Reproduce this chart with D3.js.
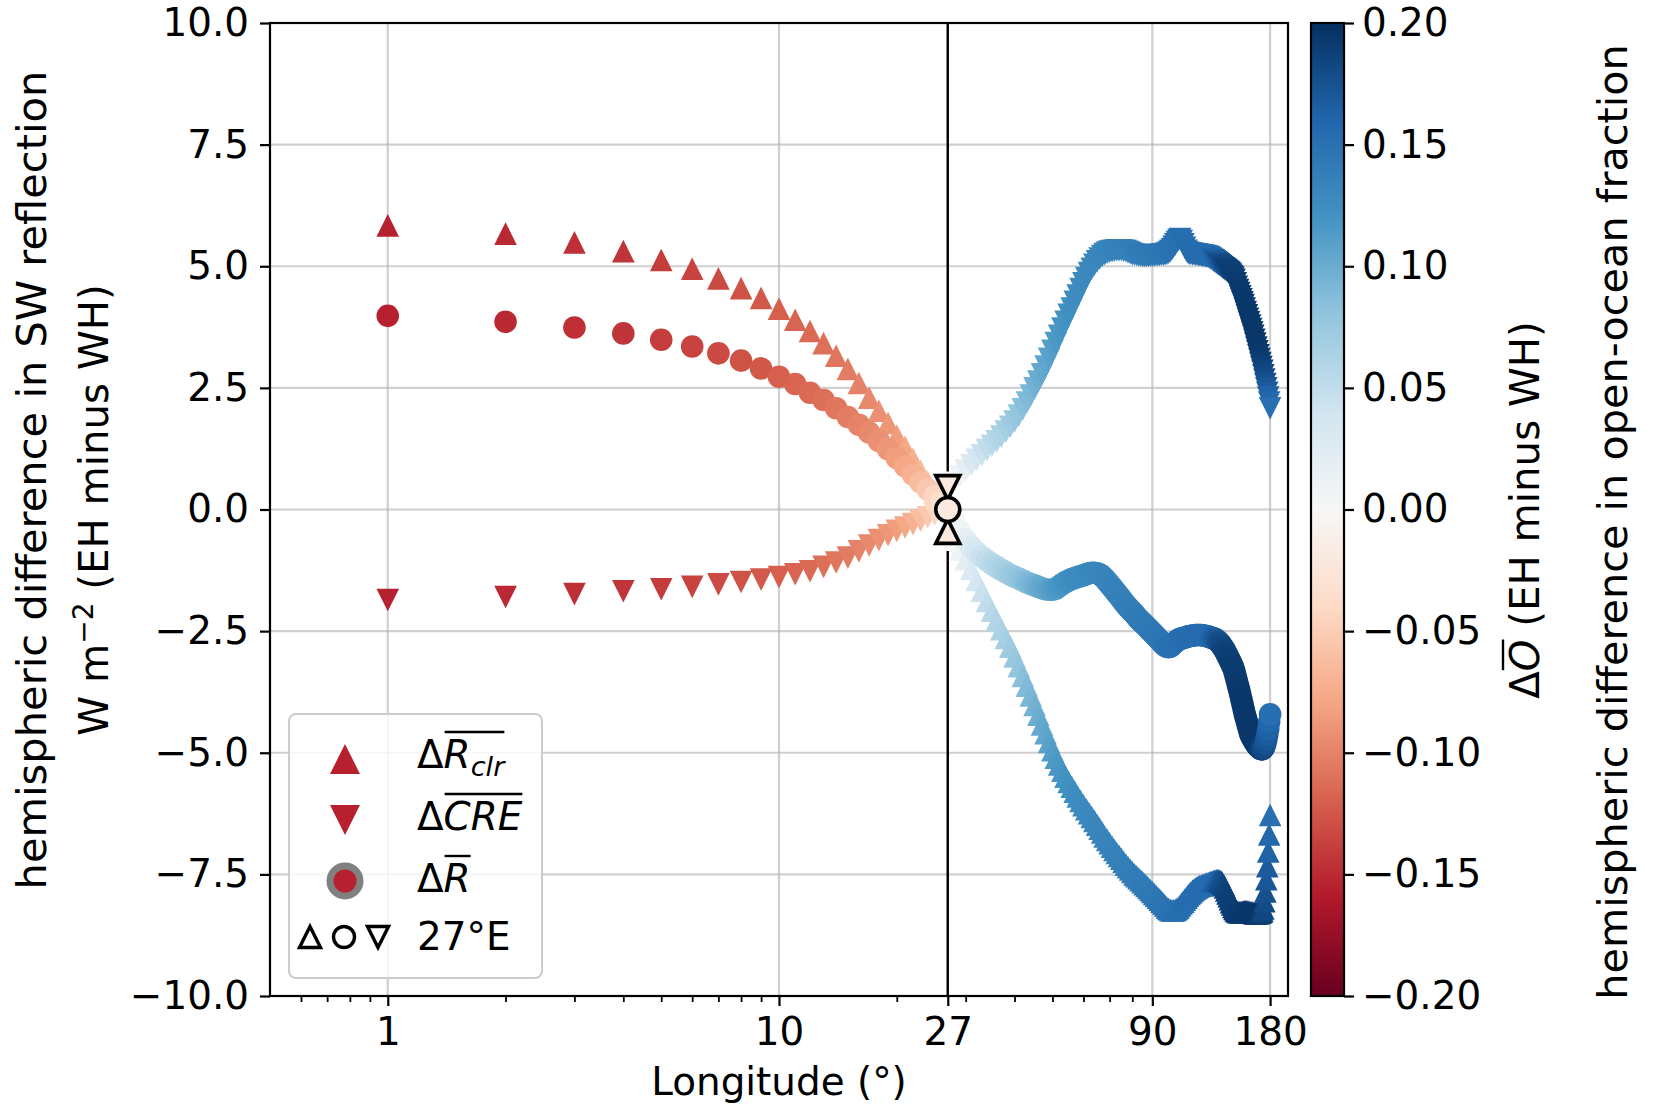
<!DOCTYPE html>
<html>
<head>
<meta charset="utf-8">
<script src="https://cdn.jsdelivr.net/npm/d3@7"></script>
<style>
  body { margin: 0; background: #fff; }
  text { font-family: "DejaVu Sans"; }
</style>
</head>
<body>
<svg id="chart" width="1655" height="1106"></svg>
<script>
// longitude of the hemisphere divide (degrees)
const lon = [
  1,2,3,4,5,6,7,8,9,10, 11,12,13,14,15,16,17,18,19,20,
  21,22,23,24,25,26,27,28,29,30, 31,32,33,34,35,36,37,38,39,40,
  41,42,43,44,45,46,47,48,49,50, 51,52,53,54,55,56,57,58,59,60,
  61,62,63,64,65,66,67,68,69,70, 71,72,73,74,75,76,77,78,79,80,
  81,82,83,84,85,86,87,88,89,90, 91,92,93,94,95,96,97,98,99,100,
  101,102,103,104,105,106,107,108,109,110, 111,112,113,114,115,116,117,118,119,120,
  121,122,123,124,125,126,127,128,129,130, 131,132,133,134,135,136,137,138,139,140,
  141,142,143,144,145,146,147,148,149,150, 151,152,153,154,155,156,157,158,159,160,
  161,162,163,164,165,166,167,168,169,170, 171,172,173,174,175,176,177,178,179,180
];

// clear-sky reflection difference (W m-2)
const rClr = [
  5.84,5.67,5.49,5.31,5.13,4.95,4.75,4.55,4.35,4.13,
  3.90,3.67,3.42,3.16,2.89,2.60,2.30,2.03,1.78,1.52,
  1.29,1.04,0.80,0.58,0.37,0.18,-0.45,-0.62,-0.82,-1.02,
  -1.22,-1.45,-1.67,-1.88,-2.08,-2.28,-2.46,-2.64,-2.82,-3.02,
  -3.22,-3.42,-3.62,-3.82,-4.02,-4.22,-4.42,-4.60,-4.78,-4.95,
  -5.10,-5.24,-5.37,-5.49,-5.60,-5.70,-5.80,-5.90,-5.99,-6.08,
  -6.16,-6.24,-6.32,-6.40,-6.48,-6.56,-6.64,-6.72,-6.79,-6.86,
  -6.93,-7.00,-7.06,-7.12,-7.18,-7.24,-7.30,-7.35,-7.40,-7.45,
  -7.50,-7.54,-7.58,-7.62,-7.66,-7.70,-7.74,-7.78,-7.82,-7.86,
  -7.90,-7.94,-7.98,-8.02,-8.06,-8.10,-8.14,-8.18,-8.21,-8.23,
  -8.24,-8.24,-8.23,-8.21,-8.18,-8.14,-8.10,-8.06,-8.02,-7.98,
  -7.94,-7.90,-7.87,-7.84,-7.81,-7.79,-7.77,-7.75,-7.74,-7.73,
  -7.72,-7.71,-7.70,-7.69,-7.68,-7.67,-7.66,-7.65,-7.64,-7.63,
  -7.62,-7.62,-7.62,-7.63,-7.65,-7.68,-7.72,-7.77,-7.83,-7.89,
  -7.95,-8.01,-8.07,-8.12,-8.17,-8.21,-8.24,-8.26,-8.27,-8.28,
  -8.28,-8.28,-8.27,-8.27,-8.26,-8.26,-8.26,-8.27,-8.27,-8.28,
  -8.28,-8.29,-8.29,-8.30,-8.30,-8.30,-8.30,-8.30,-8.29,-8.28,
  -8.27,-8.25,-8.20,-8.05,-7.85,-7.60,-7.33,-7.03,-6.68,-6.28
];

// cloud radiative effect difference (W m-2)
const cre = [
  -1.86,-1.80,-1.74,-1.68,-1.64,-1.59,-1.54,-1.49,-1.44,-1.39,
  -1.33,-1.27,-1.18,-1.09,-0.99,-0.86,-0.74,-0.63,-0.53,-0.44,
  -0.37,-0.30,-0.23,-0.16,-0.10,-0.04,0.45,0.55,0.68,0.80,
  0.91,1.02,1.12,1.22,1.31,1.40,1.50,1.60,1.70,1.81,
  1.93,2.06,2.20,2.34,2.49,2.63,2.78,2.94,3.10,3.26,
  3.42,3.57,3.72,3.86,4.00,4.13,4.27,4.40,4.53,4.65,
  4.76,4.86,4.95,5.03,5.10,5.16,5.21,5.25,5.28,5.30,
  5.31,5.32,5.33,5.33,5.33,5.32,5.31,5.29,5.27,5.25,
  5.24,5.23,5.22,5.22,5.21,5.21,5.21,5.21,5.22,5.22,
  5.22,5.23,5.23,5.23,5.24,5.24,5.25,5.26,5.28,5.31,
  5.35,5.40,5.45,5.50,5.54,5.56,5.52,5.45,5.38,5.32,
  5.28,5.26,5.26,5.25,5.25,5.24,5.24,5.23,5.23,5.22,
  5.22,5.21,5.21,5.20,5.19,5.18,5.16,5.14,5.12,5.10,
  5.08,5.06,5.04,5.02,5.00,4.98,4.96,4.94,4.92,4.90,
  4.88,4.86,4.83,4.80,4.77,4.72,4.65,4.58,4.51,4.45,
  4.38,4.32,4.26,4.20,4.13,4.06,3.99,3.92,3.85,3.78,
  3.71,3.64,3.57,3.49,3.41,3.33,3.25,3.17,3.09,3.01,
  2.93,2.85,2.76,2.67,2.58,2.49,2.40,2.30,2.20,2.08
];

// all-sky reflection difference (W m-2)
const rAll = [
  3.98,3.86,3.74,3.62,3.49,3.35,3.21,3.06,2.90,2.73,
  2.58,2.40,2.25,2.08,1.90,1.74,1.58,1.41,1.24,1.06,
  0.89,0.72,0.56,0.41,0.27,0.14,0.00,-0.22,-0.45,-0.62,
  -0.76,-0.88,-0.97,-1.05,-1.12,-1.18,-1.24,-1.29,-1.34,-1.38,
  -1.42,-1.46,-1.50,-1.53,-1.56,-1.59,-1.62,-1.64,-1.65,-1.65,
  -1.63,-1.58,-1.53,-1.49,-1.46,-1.43,-1.41,-1.39,-1.37,-1.35,
  -1.33,-1.31,-1.30,-1.30,-1.31,-1.33,-1.37,-1.42,-1.48,-1.54,
  -1.60,-1.66,-1.72,-1.78,-1.84,-1.90,-1.96,-2.01,-2.06,-2.10,
  -2.15,-2.20,-2.25,-2.29,-2.33,-2.37,-2.41,-2.45,-2.49,-2.53,
  -2.57,-2.61,-2.65,-2.69,-2.73,-2.77,-2.80,-2.82,-2.83,-2.82,
  -2.79,-2.76,-2.73,-2.70,-2.68,-2.66,-2.65,-2.64,-2.63,-2.62,
  -2.61,-2.60,-2.60,-2.59,-2.59,-2.58,-2.58,-2.58,-2.58,-2.58,
  -2.59,-2.59,-2.60,-2.60,-2.61,-2.62,-2.63,-2.64,-2.65,-2.66,
  -2.68,-2.70,-2.72,-2.75,-2.78,-2.82,-2.86,-2.90,-2.95,-3.00,
  -3.05,-3.10,-3.15,-3.20,-3.26,-3.34,-3.43,-3.52,-3.61,-3.70,
  -3.80,-3.90,-4.00,-4.10,-4.20,-4.28,-4.36,-4.44,-4.52,-4.60,
  -4.65,-4.69,-4.73,-4.77,-4.80,-4.83,-4.86,-4.88,-4.90,-4.92,
  -4.93,-4.93,-4.91,-4.87,-4.81,-4.73,-4.63,-4.51,-4.37,-4.21
];

// open-ocean fraction difference (colour)
const dOpen = [
  -0.155,-0.151,-0.147,-0.144,-0.140,-0.136,-0.132,-0.128,-0.124,-0.120,
  -0.117,-0.114,-0.111,-0.107,-0.104,-0.100,-0.096,-0.092,-0.088,-0.084,
  -0.078,-0.071,-0.063,-0.054,-0.044,-0.033,-0.020,0.000,0.010,0.020,
  0.029,0.037,0.044,0.050,0.055,0.060,0.064,0.068,0.072,0.076,
  0.080,0.084,0.088,0.092,0.096,0.100,0.103,0.106,0.109,0.112,
  0.115,0.117,0.119,0.121,0.123,0.124,0.125,0.126,0.127,0.128,
  0.129,0.130,0.131,0.131,0.132,0.132,0.133,0.133,0.134,0.134,
  0.135,0.135,0.136,0.136,0.137,0.137,0.138,0.138,0.139,0.139,
  0.140,0.140,0.141,0.141,0.142,0.142,0.143,0.143,0.144,0.144,
  0.145,0.145,0.146,0.146,0.147,0.147,0.148,0.148,0.149,0.149,
  0.150,0.150,0.151,0.151,0.152,0.152,0.153,0.153,0.153,0.154,
  0.154,0.154,0.154,0.154,0.154,0.154,0.154,0.155,0.155,0.155,
  0.155,0.155,0.155,0.155,0.155,0.156,0.158,0.160,0.163,0.166,
  0.169,0.172,0.175,0.178,0.180,0.182,0.184,0.186,0.187,0.188,
  0.189,0.189,0.190,0.190,0.191,0.191,0.192,0.192,0.193,0.193,
  0.193,0.194,0.194,0.194,0.194,0.195,0.195,0.195,0.195,0.195,
  0.195,0.195,0.195,0.195,0.195,0.194,0.194,0.193,0.193,0.191,
  0.189,0.186,0.183,0.180,0.176,0.172,0.168,0.163,0.158,0.152
];

const divideLon = 27;
const xTicks = [1, 10, 27, 90, 180];
const xMinorTicks = [0.6, 0.7, 0.8, 0.9, 2, 3, 4, 5, 6, 7, 8, 9, 20, 30, 40, 50, 60, 70, 80];
const yTicks = [-10, -7.5, -5, -2.5, 0, 2.5, 5, 7.5, 10];
const cTicks = [-0.2, -0.15, -0.1, -0.05, 0, 0.05, 0.1, 0.15, 0.2];
const rdbu = ["#67001f","#b2182b","#d6604d","#f4a582","#fddbc7","#f7f7f7",
              "#d1e5f0","#92c5de","#4393c3","#2166ac","#053061"];

const fs = 38.9;   // base font size
const svg = d3.select("#chart");

const plot = {left: 270, right: 1288, top: 23, bottom: 996};

const xScale = d3.scaleLog().domain([0.5, 200]).range([plot.left, plot.right]);
const yScale = d3.scaleLinear().domain([-10, 10]).range([plot.bottom, plot.top]);

// matplotlib RdBu on [-0.2, 0.2]
const cDomain = rdbu.map((d, i) => -0.2 + i * 0.4 / (rdbu.length - 1));
const color = d3.scaleLinear().domain(cDomain).range(rdbu).clamp(true);
const cScale = d3.scaleLinear().domain([-0.2, 0.2]).range([plot.bottom, plot.top]);

const points = lon.map((d, i) => ({lon: d, rClr: rClr[i], cre: cre[i], r: rAll[i], dO: dOpen[i]}));

const tri = (s, up) => up ? `M0,${-s}L${-s},${s}L${s},${s}Z` : `M0,${s}L${-s},${-s}L${s},${-s}Z`;
const ms = 11.3;

// grid
svg.append("g").selectAll("line")
  .data(yTicks).join("line")
  .attr("x1", plot.left).attr("x2", plot.right)
  .attr("y1", d => yScale(d)).attr("y2", d => yScale(d))
  .attr("stroke", "#b0b0b0").attr("stroke-opacity", 0.6).attr("stroke-width", 2.2);
svg.append("g").selectAll("line")
  .data(xTicks).join("line")
  .attr("x1", d => xScale(d)).attr("x2", d => xScale(d))
  .attr("y1", plot.top).attr("y2", plot.bottom)
  .attr("stroke", "#b0b0b0").attr("stroke-opacity", 0.6).attr("stroke-width", 2.2);

// 27E divide
svg.append("line")
  .attr("x1", xScale(divideLon)).attr("x2", xScale(divideLon))
  .attr("y1", plot.top).attr("y2", plot.bottom)
  .attr("stroke", "#000").attr("stroke-width", 2.4);

// markers: clear-sky, CRE, all-sky
const marks = svg.append("g");
marks.selectAll(".up").data(points).join("path")
  .attr("class", "up")
  .attr("d", tri(ms, true))
  .attr("transform", d => `translate(${xScale(d.lon)},${yScale(d.rClr)})`)
  .attr("fill", d => color(d.dO));
marks.selectAll(".down").data(points).join("path")
  .attr("class", "down")
  .attr("d", tri(ms, false))
  .attr("transform", d => `translate(${xScale(d.lon)},${yScale(d.cre)})`)
  .attr("fill", d => color(d.dO));
marks.selectAll("circle").data(points).join("circle")
  .attr("cx", d => xScale(d.lon)).attr("cy", d => yScale(d.r))
  .attr("r", ms)
  .attr("fill", d => color(d.dO));

// open black markers at the 27E divide
const div = points.filter(d => d.lon === divideLon);
const dm = 12;
marks.selectAll(".divUp").data(div).join("path")
  .attr("d", tri(dm, true))
  .attr("transform", d => `translate(${xScale(d.lon)},${yScale(d.rClr)})`)
  .attr("fill", d => color(d.dO)).attr("stroke", "#000").attr("stroke-width", 3.6);
marks.selectAll(".divDown").data(div).join("path")
  .attr("d", tri(dm, false))
  .attr("transform", d => `translate(${xScale(d.lon)},${yScale(d.cre)})`)
  .attr("fill", d => color(d.dO)).attr("stroke", "#000").attr("stroke-width", 3.6);
marks.selectAll(".divR").data(div).join("circle")
  .attr("cx", d => xScale(d.lon)).attr("cy", d => yScale(d.r))
  .attr("r", dm)
  .attr("fill", d => color(d.dO)).attr("stroke", "#000").attr("stroke-width", 3.6);

// axes
const styleAxis = g => {
  g.select(".domain").remove();
  g.selectAll("line").attr("stroke", "#000").attr("stroke-width", 2.2);
  g.selectAll("text").attr("font-family", "DejaVu Sans").attr("font-size", fs).attr("fill", "#000");
};

svg.append("g")
  .attr("transform", `translate(0,${plot.bottom})`)
  .call(d3.axisBottom(xScale).tickValues(xTicks).tickFormat(d3.format("d")).tickSize(10).tickPadding(11))
  .call(styleAxis);
svg.append("g")
  .attr("transform", `translate(0,${plot.bottom})`)
  .call(d3.axisBottom(xScale).tickValues(xMinorTicks).tickFormat("").tickSize(6))
  .call(g => { g.select(".domain").remove(); g.selectAll("line").attr("stroke", "#000").attr("stroke-width", 1.8); });

svg.append("g")
  .attr("transform", `translate(${plot.left},0)`)
  .call(d3.axisLeft(yScale).tickValues(yTicks).tickFormat(d3.format(".1f")).tickSize(10).tickPadding(11))
  .call(styleAxis);

// frame
svg.append("rect")
  .attr("x", plot.left).attr("y", plot.top)
  .attr("width", plot.right - plot.left).attr("height", plot.bottom - plot.top)
  .attr("fill", "none").attr("stroke", "#000").attr("stroke-width", 2.2);

// axis labels
svg.append("text")
  .attr("x", (plot.left + plot.right) / 2).attr("y", 1095)
  .attr("text-anchor", "middle").attr("font-size", fs)
  .text("Longitude (°)");

svg.append("text")
  .attr("transform", "translate(46,480) rotate(-90)")
  .attr("text-anchor", "middle").attr("font-size", 41.6)
  .text("hemispheric difference in SW reflection");

const yl2 = svg.append("text")
  .attr("transform", "translate(108,510) rotate(-90)")
  .attr("text-anchor", "middle").attr("font-size", 40.3);
yl2.append("tspan").text("W m");
yl2.append("tspan").attr("font-size", 28).attr("dy", -15).text("−2");
yl2.append("tspan").attr("dy", 15).text(" (EH minus WH)");

// colour bar
const cb = {x: 1311, w: 33};
const grad = svg.append("defs").append("linearGradient")
  .attr("id", "rdbu").attr("x1", 0).attr("x2", 0).attr("y1", 1).attr("y2", 0);
grad.selectAll("stop").data(rdbu).join("stop")
  .attr("offset", (d, i) => i / (rdbu.length - 1))
  .attr("stop-color", d => d);
svg.append("rect")
  .attr("x", cb.x).attr("y", plot.top).attr("width", cb.w).attr("height", plot.bottom - plot.top)
  .attr("fill", "url(#rdbu)").attr("stroke", "#000").attr("stroke-width", 2.2);
svg.append("g")
  .attr("transform", `translate(${cb.x + cb.w},0)`)
  .call(d3.axisRight(cScale).tickValues(cTicks).tickFormat(d3.format(".2f")).tickSize(10).tickPadding(8))
  .call(styleAxis);

// colour bar label, two lines
const cl1g = svg.append("g").attr("transform", "translate(1539,510) rotate(-90)");
const cl1 = cl1g.append("text").attr("text-anchor", "middle").attr("font-size", 40.3);
cl1.append("tspan").text("Δ");
cl1.append("tspan").attr("font-style", "italic").text("O");
cl1.append("tspan").text(" (EH minus WH)");

svg.append("text")
  .attr("transform", "translate(1627,522) rotate(-90)")
  .attr("text-anchor", "middle").attr("font-size", 41.4)
  .text("hemispheric difference in open-ocean fraction");

// legend
const lg = svg.append("g");
lg.append("rect")
  .attr("x", 289).attr("y", 714).attr("width", 253).attr("height", 264).attr("rx", 7)
  .attr("fill", "#fff").attr("fill-opacity", 0.8).attr("stroke", "#cccccc").attr("stroke-width", 2);

const legendColor = color(dOpen[0]);
lg.append("path").attr("d", tri(15, true)).attr("transform", "translate(345,759)").attr("fill", legendColor);
lg.append("path").attr("d", tri(15, false)).attr("transform", "translate(345,820)").attr("fill", legendColor);
lg.append("circle").attr("cx", 345).attr("cy", 881).attr("r", 15)
  .attr("fill", legendColor).attr("stroke", "#808080").attr("stroke-width", 7);
lg.append("path").attr("d", tri(10.5, true)).attr("transform", "translate(310,937)")
  .attr("fill", "none").attr("stroke", "#000").attr("stroke-width", 3.4);
lg.append("circle").attr("cx", 344).attr("cy", 937).attr("r", 10.5)
  .attr("fill", "none").attr("stroke", "#000").attr("stroke-width", 3.4);
lg.append("path").attr("d", tri(10.5, false)).attr("transform", "translate(378,937)")
  .attr("fill", "none").attr("stroke", "#000").attr("stroke-width", 3.4);

const lt1 = lg.append("text").attr("x", 417).attr("y", 768).attr("font-size", fs);
lt1.append("tspan").text("Δ");
lt1.append("tspan").attr("font-style", "italic").text("R");
lt1.append("tspan").attr("font-style", "italic").attr("font-size", fs * 0.7).attr("dy", 8).text("clr");

const lt2 = lg.append("text").attr("x", 417).attr("y", 830).attr("font-size", fs);
lt2.append("tspan").text("Δ");
lt2.append("tspan").attr("font-style", "italic").text("CRE");

const lt3 = lg.append("text").attr("x", 417).attr("y", 892).attr("font-size", fs);
lt3.append("tspan").text("Δ");
lt3.append("tspan").attr("font-style", "italic").text("R");

lg.append("text").attr("x", 417).attr("y", 950).attr("font-size", fs).text("27°E");

// overlines (mean bars) measured from the rendered glyphs
const overline = (parent, textSel, i0, i1, yy) => {
  const node = textSel.node();
  const a = node.getStartPositionOfChar(i0).x;
  const b = node.getEndPositionOfChar(i1).x;
  parent.append("line")
    .attr("x1", a + 1).attr("x2", b).attr("y1", yy).attr("y2", yy)
    .attr("stroke", "#000").attr("stroke-width", 2.4);
};
overline(lg, lt1, 1, 4, 768 - 36);
overline(lg, lt2, 1, 3, 830 - 36);
overline(lg, lt3, 1, 1, 892 - 36);
overline(cl1g, cl1, 1, 1, -36);
</script>
</body>
</html>
